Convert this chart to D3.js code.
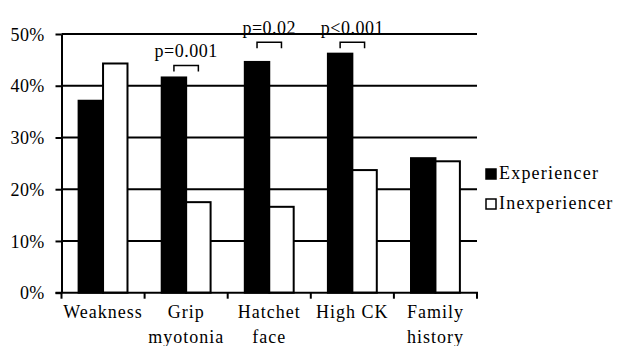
<!DOCTYPE html>
<html><head><meta charset="utf-8">
<script src="https://cdn.jsdelivr.net/npm/d3@7"></script>
<style>
body{margin:0;background:#fff;}
text, tspan{font-family:"Liberation Serif","DejaVu Serif";fill:#000;}
</style></head>
<body><svg id="c" width="621" height="346"></svg>
<script>
const categories = [["Weakness"],["Grip","myotonia"],["Hatchet","face"],["High CK"],["Family","history"]];
const categoryKeys = ["Weakness","Grip myotonia","Hatchet face","High CK","Family history"];
const series = ["Experiencer","Inexperiencer"];
const experiencer = [37.1, 41.6, 44.6, 46.2, 26.0];
const inexperiencer = [44.3, 17.5, 16.6, 23.7, 25.4];
const yTicks = [0,10,20,30,40,50];
const pCategories = ["Grip myotonia","Hatchet face","High CK"];
const pLabels = ["p=0.001","p=0.02","p<0.001"];
const pLevels = [43.9, 48.4, 48.4];

const FONT = '"Liberation Serif","DejaVu Serif"';
const svg = d3.select("#c");
const m = {l:61.5, r:477, t:34, b:292.7};
const x = d3.scaleBand().domain(categoryKeys).range([m.l, m.r]).paddingInner(0).paddingOuter(0);
const x1 = d3.scaleBand().domain(series).range([0, x.bandwidth()]).paddingInner(0).paddingOuter(0.7);
const y = d3.scaleLinear().domain([0,50]).range([m.b, m.t]);
const colors = {Experiencer:"#000", Inexperiencer:"#fff"};

// gridlines
svg.append("g").selectAll("line").data(yTicks.filter(d=>d>0)).join("line")
  .attr("x1", m.l).attr("x2", m.r).attr("y1", d=>y(d)).attr("y2", d=>y(d))
  .attr("stroke","#000").attr("stroke-width",2);

// bars
const data = categoryKeys.map((c,i)=>({c, vals:[{s:"Experiencer",v:experiencer[i]},{s:"Inexperiencer",v:inexperiencer[i]}]}));
const g = svg.append("g").selectAll("g").data(data).join("g").attr("transform", d=>`translate(${x(d.c)},0)`);
g.selectAll("rect").data(d=>d.vals).join("rect")
  .attr("x", d=>x1(d.s)).attr("width", x1.bandwidth())
  .attr("y", d=>y(d.v)).attr("height", d=>y(0)-y(d.v))
  .attr("fill", d=>colors[d.s]).attr("stroke","#000").attr("stroke-width",2);

// y axis
const ya = svg.append("g").attr("transform",`translate(${m.l},0)`)
  .call(d3.axisLeft(y).tickValues(yTicks).tickFormat(d=>d+"%").tickSize(6).tickSizeOuter(0));
ya.attr("font-family",FONT);
ya.select(".domain").attr("stroke","#000").attr("stroke-width",2);
ya.selectAll(".tick line").attr("stroke","#000").attr("stroke-width",2);
ya.selectAll(".tick text").attr("font-size",18).attr("x",-17).attr("dy","0.34em")
  .style("font-family",FONT).style("letter-spacing","0.3px");

// x axis
const xa = svg.append("g").attr("transform",`translate(0,${m.b})`);
xa.append("line").attr("x1",m.l-6).attr("x2",m.r+1).attr("y1",0).attr("y2",0).attr("stroke","#000").attr("stroke-width",2);
const bounds = categoryKeys.map(c=>x(c)).concat([m.r]);
xa.selectAll("line.t").data(bounds).join("line").attr("class","t")
  .attr("x1",d=>d).attr("x2",d=>d).attr("y1",0).attr("y2",6).attr("stroke","#000").attr("stroke-width",2);
xa.selectAll("text.cl").data(categories).join("text").attr("class","cl")
  .attr("text-anchor","middle").attr("font-size",18).style("font-family",FONT).style("letter-spacing","1px")
  .attr("transform",(d,i)=>`translate(${x(categoryKeys[i])+x.bandwidth()/2},0)`)
  .selectAll("tspan").data(d=>d).join("tspan")
  .attr("x",0).attr("y",(d,i)=>25+i*25).text(d=>d);

// p-value brackets
pCategories.forEach((c,i)=>{
  const x0 = x(c)+x1("Experiencer")+x1.bandwidth()/2;
  const x2 = x(c)+x1("Inexperiencer")+x1.bandwidth()/2;
  const yy = y(pLevels[i]);
  svg.append("path").attr("d",`M${x0},${yy+6}V${yy}H${x2}V${yy+6}`)
    .attr("fill","none").attr("stroke","#000").attr("stroke-width",1.5);
  svg.append("text").attr("x",(x0+x2)/2).attr("y",yy-8.5).attr("text-anchor","middle")
    .attr("font-size",18).style("font-family",FONT).style("letter-spacing","0.5px").text(pLabels[i]);
});

// legend
const lg = svg.append("g").selectAll("g").data(series).join("g")
  .attr("transform",(d,i)=>`translate(486,${169+i*30})`);
lg.append("rect").attr("width",10).attr("height",10)
  .attr("fill",d=>colors[d]).attr("stroke","#000").attr("stroke-width",1.5);
lg.append("text").attr("x",13).attr("y",10).attr("font-size",18).style("font-family",FONT)
  .style("letter-spacing","1.2px").text(d=>d);
</script></body></html>
